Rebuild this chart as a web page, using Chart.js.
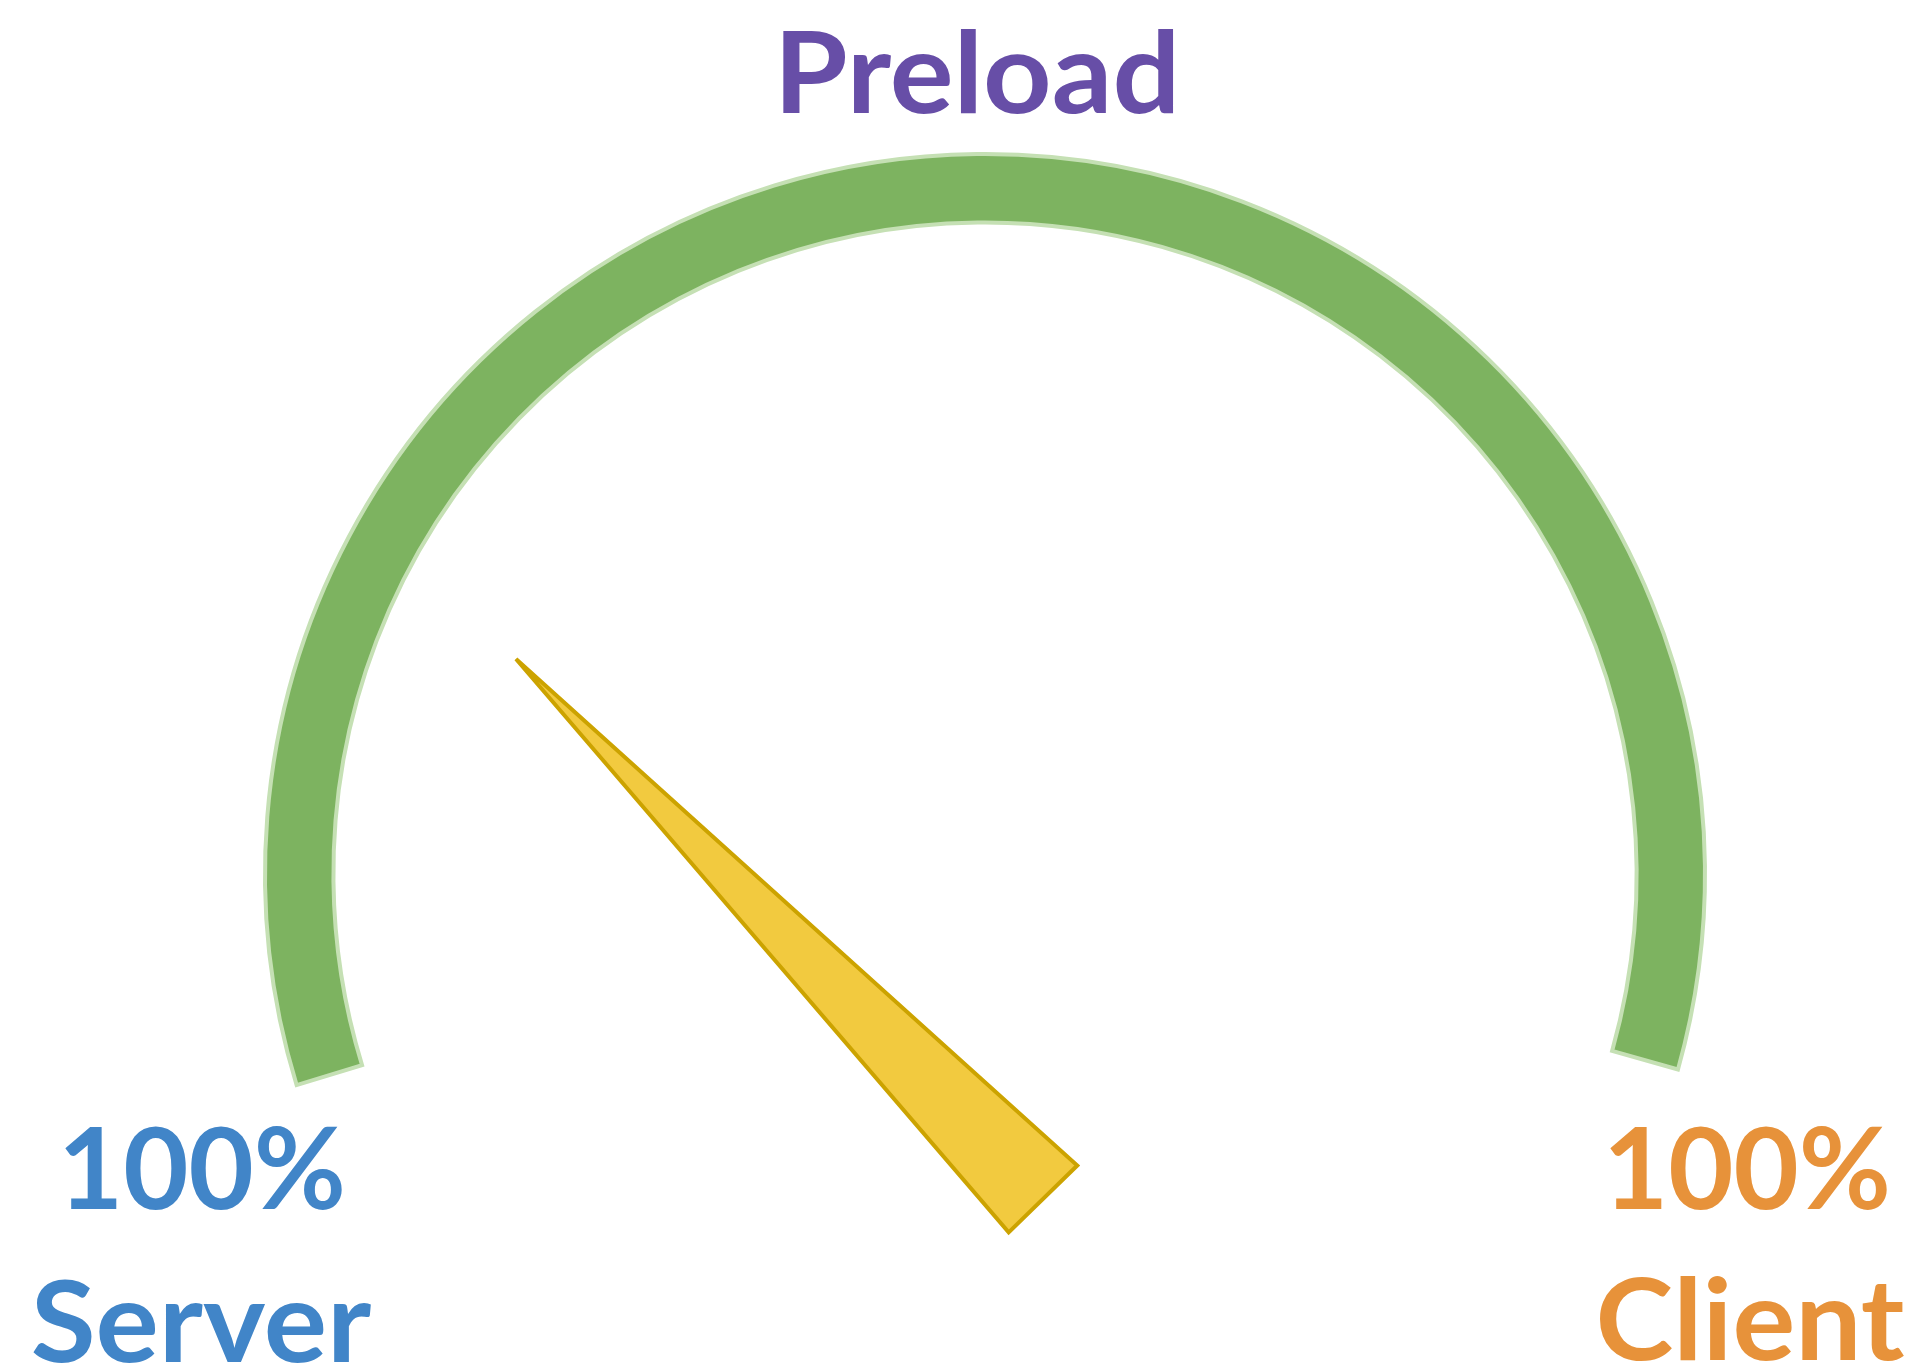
<!DOCTYPE html>
<html><head><meta charset="utf-8">
<script src="https://cdn.jsdelivr.net/npm/chart.js@4.4.1/dist/chart.umd.min.js"></script>
<style>
html,body{margin:0;padding:0;width:1921px;height:1366px;overflow:hidden;background:#ffffff;}
.box{position:absolute;}
.lbl{position:absolute;font-family:Lato,"Open Sans",sans-serif;font-weight:700;font-size:113px;line-height:1;white-space:nowrap;transform:translateX(-50%);}
</style></head><body>
<div class="box" style="left:235px;top:124px;width:1500px;height:1500px"><canvas id="gauge"></canvas></div>
<div class="box" style="left:-284px;top:-141px;width:1600px;height:1600px"><canvas id="needle"></canvas></div>
<div class="lbl" id="title" style="left:977px;top:13px;color:#674EA7"></div>
<div class="lbl" id="lval" style="left:202px;top:1109px;color:#4185C8"></div>
<div class="lbl" id="lname" style="left:201px;top:1262px;color:#4185C8"></div>
<div class="lbl" id="rval" style="left:1747px;top:1109px;color:#E7923A"></div>
<div class="lbl" id="rname" style="left:1750px;top:1260px;color:#E7923A"></div>
<script>
// ---- data ----
const titleText = 'Preload';
const endLabels = ['Server', 'Client'];
const endValues = ['100%', '100%'];
// gauge ring: visible arc span and hidden remainder (degrees)
const gaugeLabels = ['Range', 'Hidden'];
const gaugeValues = [212.8, 147.2];
const gaugeStart = -107.05;
// needle pie: before needle, needle, after needle (degrees)
const needleLabels = ['Before', 'Needle', 'After'];
const needleValues = [132.06, 7.27, 220.67];

const textSlots = [
  ['title', titleText, 406],
  ['lval', endValues[0], 288],
  ['rval', endValues[1], 288],
  ['lname', endLabels[0], 341],
  ['rname', endLabels[1], 309]
];
textSlots.forEach(([id, txt, w]) => {
  const el = document.getElementById(id);
  el.textContent = txt;
  const s = w / el.offsetWidth;
  el.style.transform = 'translateX(-50%) scaleX(' + s.toFixed(4) + ')';
});

const common = {
  responsive: true,
  maintainAspectRatio: false,
  animation: false,
  events: [],
  layout: {padding: 0},
  plugins: {legend: {display: false}, tooltip: {enabled: false}, title: {display: false}}
};

new Chart(document.getElementById('gauge'), {
  type: 'doughnut',
  data: {
    labels: gaugeLabels,
    datasets: [{
      data: gaugeValues,
      backgroundColor: ['#7DB360', 'rgba(0,0,0,0)'],
      borderColor: ['#C5E0B4', 'rgba(0,0,0,0)'],
      borderWidth: 4,
      borderJoinStyle: 'miter'
    }]
  },
  options: Object.assign({}, common, {
    rotation: gaugeStart,
    circumference: 360,
    radius: 720,
    cutout: '90.5%'
  })
});

new Chart(document.getElementById('needle'), {
  type: 'pie',
  data: {
    labels: needleLabels,
    datasets: [{
      data: needleValues,
      backgroundColor: ['rgba(0,0,0,0)', '#F2CA3F', 'rgba(0,0,0,0)'],
      borderColor: ['rgba(0,0,0,0)', '#CCA300', 'rgba(0,0,0,0)'],
      borderWidth: 4,
      borderJoinStyle: 'miter',
      circular: false
    }]
  },
  options: Object.assign({}, common, {
    rotation: 0,
    circumference: 360,
    radius: 756
  })
});
</script>
</body></html>
